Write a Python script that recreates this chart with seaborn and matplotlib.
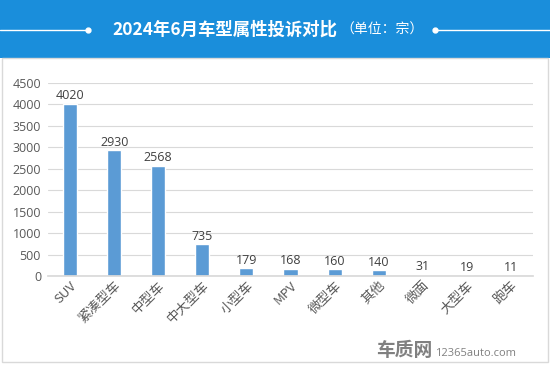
import matplotlib
matplotlib.use('Agg')
import matplotlib.pyplot as plt
import seaborn as sns
import pandas as pd
from matplotlib.patches import Rectangle
from matplotlib.lines import Line2D

# data
categories = ['SUV', '紧凑型车', '中型车', '中大型车', '小型车', 'MPV',
              '微型车', '其他', '微面', '大型车', '跑车']
complaints = [4020, 2930, 2568, 735, 179, 168, 160, 140, 31, 19, 11]
yticks = [0, 500, 1000, 1500, 2000, 2500, 3000, 3500, 4000, 4500]

sns.set_theme(style='white')
plt.rcParams['font.family'] = ['Noto Sans CJK SC', 'DejaVu Sans']
num_font = ['Open Sans', 'Noto Sans CJK SC']

W, H = 550, 365
fig = plt.figure(figsize=(5.5, 3.65), dpi=100)
fig.patch.set_facecolor('white')

# blue banner on top
fig.patches.append(Rectangle((0, 1 - 58 / H), 1, 58 / H, transform=fig.transFigure,
                             facecolor='#1a8edb', edgecolor='none', zorder=0))
# light frame around the chart area
fig.patches.append(Rectangle((2 / W, 3 / H), 546 / W, (H - 61) / H, transform=fig.transFigure,
                             facecolor='none', edgecolor='#d9d9d9', lw=1, zorder=0))

ty = 1 - 30 / H
fig.lines.append(Line2D([0, 87 / W], [ty, ty], transform=fig.transFigure, color='white', lw=1))
fig.lines.append(Line2D([437 / W, 1], [ty, ty], transform=fig.transFigure, color='white', lw=1))
fig.lines.append(Line2D([88 / W], [ty], transform=fig.transFigure, color='white',
                        marker='o', markersize=3.5, lw=0))
fig.lines.append(Line2D([435 / W], [ty], transform=fig.transFigure, color='white',
                        marker='o', markersize=3.5, lw=0))

fig.text(337 / W, ty, '2024年6月车型属性投诉对比', color='white', fontsize=12.5,
         fontweight='bold', ha='right', va='center')
fig.text(340 / W, ty, '（单位：宗）', color='white', fontsize=10,
         ha='left', va='center')

# main bar chart
ax = fig.add_axes([48 / W, 1 - 276 / H, (533 - 48) / W, (276 - 83) / H])
df = pd.DataFrame({'type': categories, 'count': complaints})
sns.barplot(data=df, x='type', y='count', color='#5b9bd5', saturation=1,
            width=0.32, ax=ax)

ax.set_ylim(0, 4500)
ax.set_yticks(yticks)
ax.set_xlim(-0.5, len(categories) - 0.5)
ax.yaxis.grid(True, color='#d9d9d9', lw=0.8)
ax.set_axisbelow(True)
for s in ['top', 'right', 'left']:
    ax.spines[s].set_visible(False)
ax.spines['bottom'].set_color('#d9d9d9')
ax.set_xlabel('')
ax.set_ylabel('')
ax.tick_params(axis='y', labelsize=9, labelcolor='#595959', length=0, pad=5)
ax.tick_params(axis='x', labelsize=9.5, labelcolor='#595959', length=0, pad=2)
for t in ax.get_yticklabels():
    t.set_family(num_font)
plt.setp(ax.get_xticklabels(), rotation=45, ha='right', rotation_mode='anchor')

for c in ax.containers:
    labels = ax.bar_label(c, fmt='%d', fontsize=9, color='#404040', padding=1)
    for t in labels:
        t.set_family(num_font)

# watermark
fig.text(432 / W, 1 - 351 / H, '车质网', color='#808080', fontsize=13.5,
         fontweight='bold', ha='right', va='center')
fig.text(435 / W, 1 - 353 / H, '12365auto.com', color='#808080', fontsize=8,
         ha='left', va='center', family=num_font)

fig.savefig('out.png', dpi=100)
